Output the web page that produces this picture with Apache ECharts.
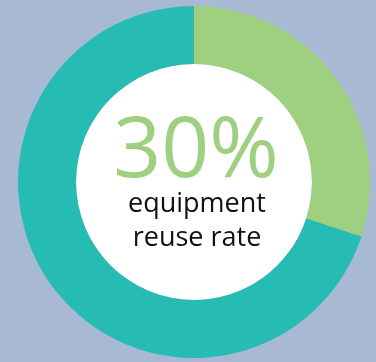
<!DOCTYPE html>
<html><head><meta charset="utf-8">
<script src="https://cdn.jsdelivr.net/npm/echarts@6/dist/echarts.min.js"></script>
<style>html,body{margin:0;padding:0;background:#a8bad3}#c{width:376px;height:362px}</style>
</head><body><div id="c"></div>
<script>
const categories = ['Equipment reused', 'Not reused'];
const values = [30, 70];
const headline = '30%';
const captionLines = ['equipment', 'reuse rate'];
const colors = ['#9fd07f', '#27bcb3'];

const chart = echarts.init(document.getElementById('c'), null, {renderer: 'canvas'});
const cx = 194, cy = 182;
chart.setOption({
  backgroundColor: '#a8bad3',
  animation: false,
  series: [
    {
      type: 'pie', silent: true, center: [cx, cy], radius: [0, 118],
      label: {show: false}, labelLine: {show: false},
      itemStyle: {color: '#ffffff'},
      data: [{name: 'bg', value: 1}]
    },
    {
      type: 'pie', silent: true, center: [cx, cy], radius: [118, 176],
      startAngle: 90, clockwise: true,
      label: {show: false}, labelLine: {show: false},
      data: categories.map((n, i) => ({name: n, value: values[i], itemStyle: {color: colors[i]}}))
    }
  ],
  graphic: [
    {type: 'text', z: 100, x: cx + 2, y: 153, style: {text: headline, fill: '#9fd07f', fontFamily: 'Open Sans', fontSize: 84, fontWeight: 400, align: 'center', verticalAlign: 'middle'}},
    {type: 'text', z: 100, x: cx + 3, y: 204, style: {text: captionLines[0], fill: '#111111', fontFamily: 'Open Sans', fontSize: 27, align: 'center', verticalAlign: 'middle'}},
    {type: 'text', z: 100, x: cx + 3, y: 238, style: {text: captionLines[1], fill: '#111111', fontFamily: 'Open Sans', fontSize: 27, align: 'center', verticalAlign: 'middle'}}
  ]
});
</script></body></html>
